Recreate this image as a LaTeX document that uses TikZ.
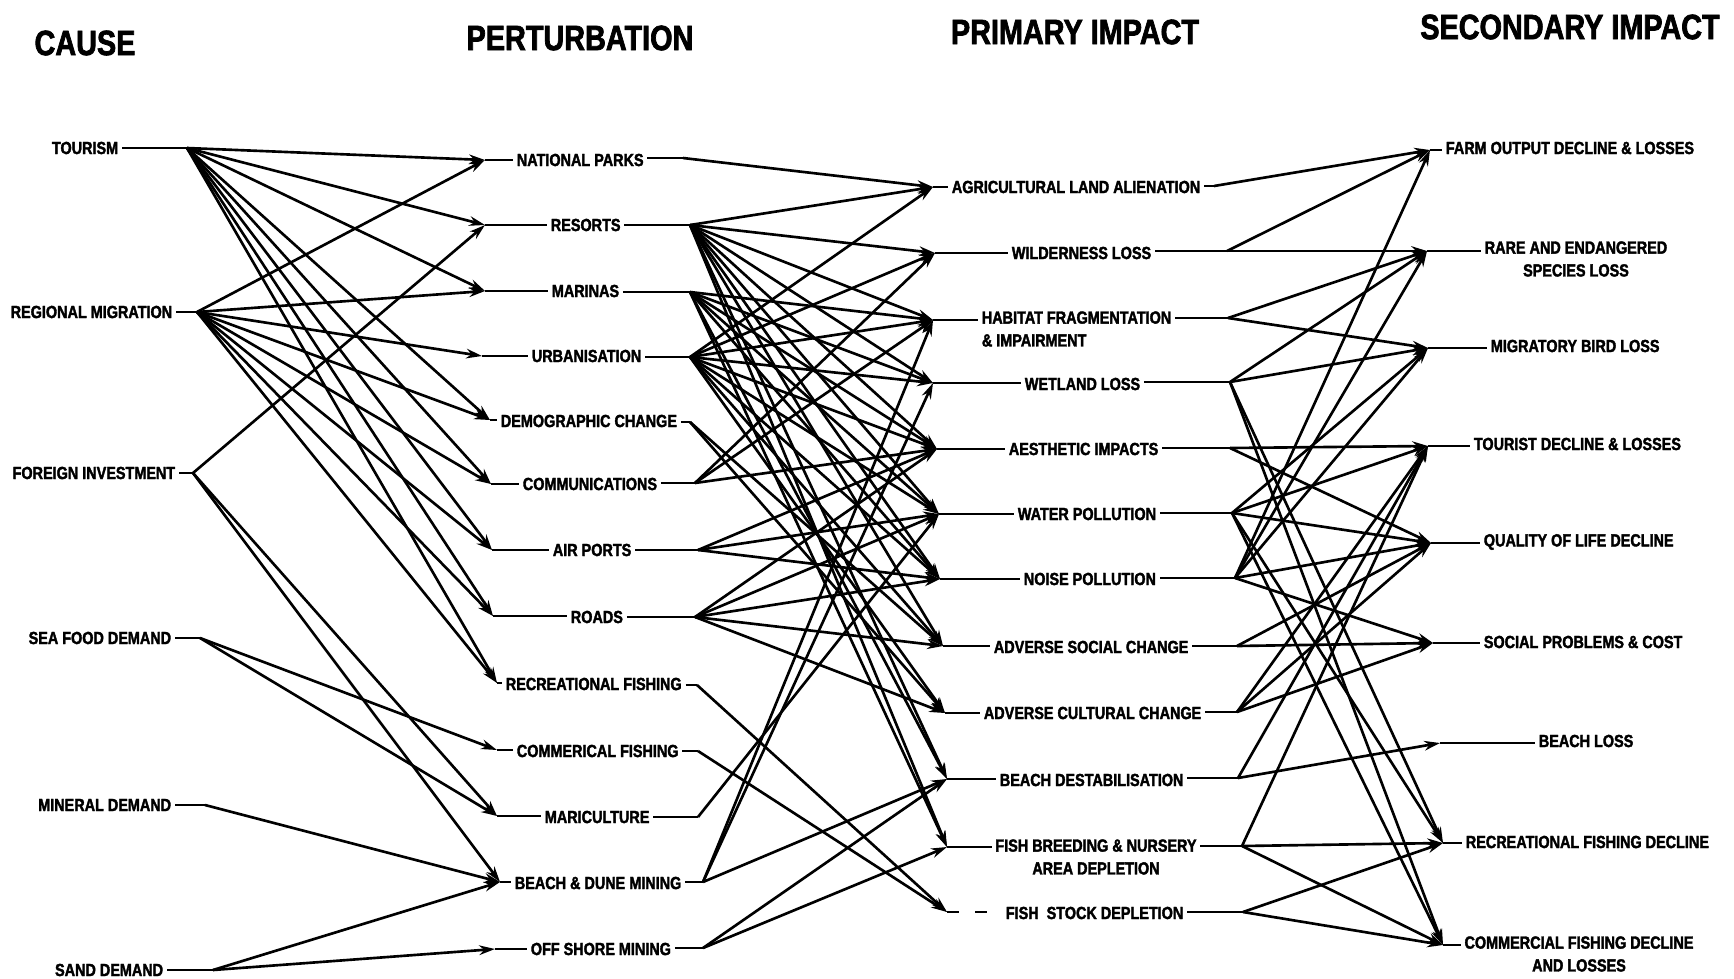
\documentclass[tikz,border=0pt]{standalone}
\usepackage{fontspec}
\newfontfamily\plotfont[FakeStretch=0.82, BoldFeatures={FakeBold=2}]{Liberation Sans}
\usetikzlibrary{arrows.meta}
\tikzset{
  lab/.style={font=\plotfont\bfseries\fontsize{10}{13}\selectfont, inner sep=2pt},
  head/.style={font=\plotfont\bfseries\fontsize{20}{24}\selectfont, inner sep=0pt},
  stub/.style={line width=1.5pt},
  link/.style={line width=1.5pt, -{Stealth[length=9pt,width=5.5pt]}},
}
\begin{document}
\begin{tikzpicture}[x=0.02cm, y=-0.02cm]
                \path[use as bounding box] (0,0) rectangle (1734,978);
                % column heads
                \node[head] (hcause) at (85,43) {CAUSE};
                \node[head] (hpert) at (580,38) {PERTURBATION};
                \node[head] (hprim) at (1075,32) {PRIMARY IMPACT};
                \node[head] (hsec) at (1570,27) {SECONDARY IMPACT};
                % cause
                \node[lab, anchor=east] (tour) at (122,148) {TOURISM};
                \coordinate (tour-out) at (187,148);
                \node[lab, anchor=east] (mig) at (176,312) {REGIONAL MIGRATION};
                \coordinate (mig-out) at (197,312);
                \node[lab, anchor=east] (inv) at (179,473) {FOREIGN INVESTMENT};
                \coordinate (inv-out) at (193,473);
                \node[lab, anchor=east] (sea) at (175,638) {SEA FOOD DEMAND};
                \coordinate (sea-out) at (200,638);
                \node[lab, anchor=east] (min) at (175,805) {MINERAL DEMAND};
                \coordinate (min-out) at (205,805);
                \node[lab, anchor=east] (sand) at (167,970) {SAND DEMAND};
                \coordinate (sand-out) at (213,970);
                % perturbation
                \coordinate (np-in) at (485,160);
                \node[lab, anchor=west] (np) at (513,160) {NATIONAL PARKS};
                \coordinate (np-out) at (683,158);
                \coordinate (res-in) at (485,225);
                \node[lab, anchor=west] (res) at (547,225) {RESORTS};
                \coordinate (res-out) at (690,225);
                \coordinate (mar-in) at (485,291);
                \node[lab, anchor=west] (mar) at (548,291) {MARINAS};
                \coordinate (mar-out) at (690,292);
                \coordinate (urb-in) at (482,356);
                \node[lab, anchor=west] (urb) at (528,356) {URBANISATION};
                \coordinate (urb-out) at (690,357);
                \coordinate (dem-in) at (490,420);
                \node[lab, anchor=west] (dem) at (497,421) {DEMOGRAPHIC CHANGE};
                \coordinate (dem-out) at (690,422);
                \coordinate (com-in) at (491,484);
                \node[lab, anchor=west] (com) at (519,484) {COMMUNICATIONS};
                \coordinate (com-out) at (695,483);
                \coordinate (air-in) at (492,550);
                \node[lab, anchor=west] (air) at (549,550) {AIR PORTS};
                \coordinate (air-out) at (698,550);
                \coordinate (rds-in) at (493,616);
                \node[lab, anchor=west] (rds) at (567,617) {ROADS};
                \coordinate (rds-out) at (695,617);
                \coordinate (rf-in) at (497,683);
                \node[lab, anchor=west] (rf) at (502,684) {RECREATIONAL FISHING};
                \coordinate (rf-out) at (697,685);
                \coordinate (cf-in) at (497,750);
                \node[lab, anchor=west] (cf) at (513,751) {COMMERICAL FISHING};
                \coordinate (cf-out) at (698,751);
                \coordinate (mari-in) at (497,816);
                \node[lab, anchor=west] (mari) at (541,817) {MARICULTURE};
                \coordinate (mari-out) at (698,817);
                \coordinate (bdm-in) at (500,882);
                \node[lab, anchor=west] (bdm) at (511,883) {BEACH \& DUNE MINING};
                \coordinate (bdm-out) at (703,882);
                \coordinate (osm-in) at (495,949);
                \node[lab, anchor=west] (osm) at (527,949) {OFF SHORE MINING};
                \coordinate (osm-out) at (703,948);
                % primary impact
                \coordinate (agri-in) at (933,187);
                \node[lab, anchor=west] (agri) at (948,187) {AGRICULTURAL LAND ALIENATION};
                \coordinate (agri-out) at (1214,186);
                \coordinate (wild-in) at (935,253);
                \node[lab, anchor=west] (wild) at (1008,253) {WILDERNESS LOSS};
                \coordinate (wild-out) at (1227,251);
                \coordinate (hab-in) at (933,320);
                \node[lab, anchor=west, align=left] (hab) at (978,329) {HABITAT FRAGMENTATION\\\& IMPAIRMENT};
                \coordinate (hab-out) at (1228,318);
                \coordinate (wet-in) at (933,383);
                \node[lab, anchor=west] (wet) at (1021,384) {WETLAND LOSS};
                \coordinate (wet-out) at (1230,382);
                \coordinate (aes-in) at (937,449);
                \node[lab, anchor=west] (aes) at (1005,449) {AESTHETIC IMPACTS};
                \coordinate (aes-out) at (1230,448);
                \coordinate (wat-in) at (939,514);
                \node[lab, anchor=west] (wat) at (1014,514) {WATER POLLUTION};
                \coordinate (wat-out) at (1232,513);
                \coordinate (noi-in) at (940,579);
                \node[lab, anchor=west] (noi) at (1020,579) {NOISE POLLUTION};
                \coordinate (noi-out) at (1235,578);
                \coordinate (soc-in) at (943,646);
                \node[lab, anchor=west] (soc) at (990,647) {ADVERSE SOCIAL CHANGE};
                \coordinate (soc-out) at (1237,646);
                \coordinate (cul-in) at (945,713);
                \node[lab, anchor=west] (cul) at (980,713) {ADVERSE CULTURAL CHANGE};
                \coordinate (cul-out) at (1237,712);
                \coordinate (bea-in) at (947,779);
                \node[lab, anchor=west] (bea) at (996,780) {BEACH DESTABILISATION};
                \coordinate (bea-out) at (1238,778);
                \coordinate (fb-in) at (947,847);
                \node[lab, align=center] (fb) at (1096,857) {FISH BREEDING \& NURSERY\\AREA DEPLETION};
                \coordinate (fb-out) at (1242,846);
                \coordinate (fs-in) at (947,912);
                \node[lab, anchor=west] (fs) at (1002,913) {FISH\ \ STOCK DEPLETION};
                \coordinate (fs-out) at (1243,912);
                % secondary impact
                \coordinate (farm-in) at (1430,150);
                \node[lab, anchor=west] (farm) at (1442,148) {FARM OUTPUT DECLINE \& LOSSES};
                \coordinate (rare-in) at (1427,251);
                \node[lab, align=center] (rare) at (1576,259) {RARE AND ENDANGERED\\SPECIES LOSS};
                \coordinate (bird-in) at (1428,348);
                \node[lab, anchor=west] (bird) at (1487,346) {MIGRATORY BIRD LOSS};
                \coordinate (tdl-in) at (1428,446);
                \node[lab, anchor=west] (tdl) at (1470,444) {TOURIST DECLINE \& LOSSES};
                \coordinate (qol-in) at (1431,543);
                \node[lab, anchor=west] (qol) at (1480,542) {QUALITY OF LIFE DECLINE};
                \coordinate (socp-in) at (1433,643);
                \node[lab, anchor=west] (socp) at (1480,642) {SOCIAL PROBLEMS \& COST};
                \coordinate (bloss-in) at (1440,743);
                \node[lab, anchor=west] (bloss) at (1535,741) {BEACH LOSS};
                \coordinate (rec-in) at (1443,843);
                \node[lab, anchor=west] (rec) at (1462,842) {RECREATIONAL FISHING DECLINE};
                \coordinate (cfd-in) at (1443,945);
                \node[lab, align=center] (cfd) at (1579,954) {COMMERCIAL FISHING DECLINE\\AND LOSSES};
                % short leads
                \draw[stub] (tour.east) -- (tour-out);
                \draw[stub] (mig.east) -- (mig-out);
                \draw[stub] (inv.east) -- (inv-out);
                \draw[stub] (sea.east) -- (sea-out);
                \draw[stub] (min.east) -- (min-out);
                \draw[stub] (sand.east) -- (sand-out);
                \draw[stub] (np-in) -- (np-in -| np.west) (np.east |- np-out) -- (np-out);
                \draw[stub] (res-in) -- (res-in -| res.west) (res.east |- res-out) -- (res-out);
                \draw[stub] (mar-in) -- (mar-in -| mar.west) (mar.east |- mar-out) -- (mar-out);
                \draw[stub] (urb-in) -- (urb-in -| urb.west) (urb.east |- urb-out) -- (urb-out);
                \draw[stub] (dem-in) -- (dem-in -| dem.west) (dem.east |- dem-out) -- (dem-out);
                \draw[stub] (com-in) -- (com-in -| com.west) (com.east |- com-out) -- (com-out);
                \draw[stub] (air-in) -- (air-in -| air.west) (air.east |- air-out) -- (air-out);
                \draw[stub] (rds-in) -- (rds-in -| rds.west) (rds.east |- rds-out) -- (rds-out);
                \draw[stub] (rf-in) -- (rf-in -| rf.west) (rf.east |- rf-out) -- (rf-out);
                \draw[stub] (cf-in) -- (cf-in -| cf.west) (cf.east |- cf-out) -- (cf-out);
                \draw[stub] (mari-in) -- (mari-in -| mari.west) (mari.east |- mari-out) -- (mari-out);
                \draw[stub] (bdm-in) -- (bdm-in -| bdm.west) (bdm.east |- bdm-out) -- (bdm-out);
                \draw[stub] (osm-in) -- (osm-in -| osm.west) (osm.east |- osm-out) -- (osm-out);
                \draw[stub] (agri-in) -- (agri-in -| agri.west) (agri.east |- agri-out) -- (agri-out);
                \draw[stub] (wild-in) -- (wild-in -| wild.west) (wild.east |- wild-out) -- (wild-out);
                \draw[stub] (hab-in) -- (hab-in -| hab.west) (hab.east |- hab-out) -- (hab-out);
                \draw[stub] (wet-in) -- (wet-in -| wet.west) (wet.east |- wet-out) -- (wet-out);
                \draw[stub] (aes-in) -- (aes-in -| aes.west) (aes.east |- aes-out) -- (aes-out);
                \draw[stub] (wat-in) -- (wat-in -| wat.west) (wat.east |- wat-out) -- (wat-out);
                \draw[stub] (noi-in) -- (noi-in -| noi.west) (noi.east |- noi-out) -- (noi-out);
                \draw[stub] (soc-in) -- (soc-in -| soc.west) (soc.east |- soc-out) -- (soc-out);
                \draw[stub] (cul-in) -- (cul-in -| cul.west) (cul.east |- cul-out) -- (cul-out);
                \draw[stub] (bea-in) -- (bea-in -| bea.west) (bea.east |- bea-out) -- (bea-out);
                \draw[stub] (fb-in) -- (fb-in -| fb.west) (fb.east |- fb-out) -- (fb-out);
                \draw[stub, dash pattern=on 7pt off 9pt] (fs-in) -- (fs-in -| fs.west);
                \draw[stub] (fs.east |- fs-out) -- (fs-out);
                \draw[stub] (farm-in) -- (farm-in -| farm.west);
                \draw[stub] (rare-in) -- (rare-in -| rare.west);
                \draw[stub] (bird-in) -- (bird-in -| bird.west);
                \draw[stub] (tdl-in) -- (tdl-in -| tdl.west);
                \draw[stub] (qol-in) -- (qol-in -| qol.west);
                \draw[stub] (socp-in) -- (socp-in -| socp.west);
                \draw[stub] (bloss-in) -- (bloss-in -| bloss.west);
                \draw[stub] (rec-in) -- (rec-in -| rec.west);
                \draw[stub] (cfd-in) -- (cfd-in -| cfd.west);
                % cause -> perturbation
                \draw[link] (tour-out) -- (np-in);
                \draw[link] (tour-out) -- (res-in);
                \draw[link] (tour-out) -- (mar-in);
                \draw[link] (tour-out) -- (dem-in);
                \draw[link] (tour-out) -- (com-in);
                \draw[link] (tour-out) -- (air-in);
                \draw[link] (tour-out) -- (rds-in);
                \draw[link] (tour-out) -- (rf-in);
                \draw[link] (mig-out) -- (np-in);
                \draw[link] (mig-out) -- (mar-in);
                \draw[link] (mig-out) -- (urb-in);
                \draw[link] (mig-out) -- (dem-in);
                \draw[link] (mig-out) -- (com-in);
                \draw[link] (mig-out) -- (air-in);
                \draw[link] (mig-out) -- (rds-in);
                \draw[link] (mig-out) -- (rf-in);
                \draw[link] (inv-out) -- (res-in);
                \draw[link] (inv-out) -- (mari-in);
                \draw[link] (inv-out) -- (bdm-in);
                \draw[link] (sea-out) -- (cf-in);
                \draw[link] (sea-out) -- (mari-in);
                \draw[link] (min-out) -- (bdm-in);
                \draw[link] (sand-out) -- (bdm-in);
                \draw[link] (sand-out) -- (osm-in);
                % perturbation -> primary impact
                \draw[link] (np-out) -- (agri-in);
                \draw[link] (res-out) -- (agri-in);
                \draw[link] (res-out) -- (wild-in);
                \draw[link] (res-out) -- (hab-in);
                \draw[link] (res-out) -- (wet-in);
                \draw[link] (res-out) -- (aes-in);
                \draw[link] (res-out) -- (wat-in);
                \draw[link] (res-out) -- (noi-in);
                \draw[link] (res-out) -- (soc-in);
                \draw[link] (res-out) -- (bea-in);
                \draw[link] (res-out) -- (fb-in);
                \draw[link] (mar-out) -- (hab-in);
                \draw[link] (mar-out) -- (wet-in);
                \draw[link] (mar-out) -- (aes-in);
                \draw[link] (mar-out) -- (wat-in);
                \draw[link] (mar-out) -- (noi-in);
                \draw[link] (mar-out) -- (bea-in);
                \draw[link] (mar-out) -- (fb-in);
                \draw[link] (urb-out) -- (agri-in);
                \draw[link] (urb-out) -- (wild-in);
                \draw[link] (urb-out) -- (hab-in);
                \draw[link] (urb-out) -- (wet-in);
                \draw[link] (urb-out) -- (aes-in);
                \draw[link] (urb-out) -- (wat-in);
                \draw[link] (urb-out) -- (noi-in);
                \draw[link] (urb-out) -- (soc-in);
                \draw[link] (urb-out) -- (cul-in);
                \draw[link] (dem-out) -- (soc-in);
                \draw[link] (dem-out) -- (cul-in);
                \draw[link] (com-out) -- (wild-in);
                \draw[link] (com-out) -- (hab-in);
                \draw[link] (com-out) -- (aes-in);
                \draw[link] (air-out) -- (aes-in);
                \draw[link] (air-out) -- (wat-in);
                \draw[link] (air-out) -- (noi-in);
                \draw[link] (rds-out) -- (aes-in);
                \draw[link] (rds-out) -- (wat-in);
                \draw[link] (rds-out) -- (noi-in);
                \draw[link] (rds-out) -- (soc-in);
                \draw[link] (rds-out) -- (cul-in);
                \draw[link] (rf-out) -- (fs-in);
                \draw[link] (cf-out) -- (fs-in);
                \draw[link] (mari-out) -- (wat-in);
                \draw[link] (bdm-out) -- (hab-in);
                \draw[link] (bdm-out) -- (wet-in);
                \draw[link] (bdm-out) -- (bea-in);
                \draw[link] (osm-out) -- (bea-in);
                \draw[link] (osm-out) -- (fb-in);
                % primary -> secondary impact
                \draw[link] (agri-out) -- (farm-in);
                \draw[link] (wild-out) -- (farm-in);
                \draw[link] (wild-out) -- (rare-in);
                \draw[link] (hab-out) -- (rare-in);
                \draw[link] (hab-out) -- (bird-in);
                \draw[link] (wet-out) -- (rare-in);
                \draw[link] (wet-out) -- (bird-in);
                \draw[link] (wet-out) -- (rec-in);
                \draw[link] (wet-out) -- (cfd-in);
                \draw[link] (aes-out) -- (tdl-in);
                \draw[link] (aes-out) -- (qol-in);
                \draw[link] (wat-out) -- (bird-in);
                \draw[link] (wat-out) -- (tdl-in);
                \draw[link] (wat-out) -- (qol-in);
                \draw[link] (wat-out) -- (rec-in);
                \draw[link] (wat-out) -- (cfd-in);
                \draw[link] (noi-out) -- (farm-in);
                \draw[link] (noi-out) -- (rare-in);
                \draw[link] (noi-out) -- (bird-in);
                \draw[link] (noi-out) -- (qol-in);
                \draw[link] (noi-out) -- (socp-in);
                \draw[link] (soc-out) -- (qol-in);
                \draw[link] (soc-out) -- (socp-in);
                \draw[link] (cul-out) -- (tdl-in);
                \draw[link] (cul-out) -- (qol-in);
                \draw[link] (cul-out) -- (socp-in);
                \draw[link] (bea-out) -- (tdl-in);
                \draw[link] (bea-out) -- (bloss-in);
                \draw[link] (fb-out) -- (tdl-in);
                \draw[link] (fb-out) -- (rec-in);
                \draw[link] (fb-out) -- (cfd-in);
                \draw[link] (fs-out) -- (rec-in);
                \draw[link] (fs-out) -- (cfd-in);
            \end{tikzpicture}
\end{document}
